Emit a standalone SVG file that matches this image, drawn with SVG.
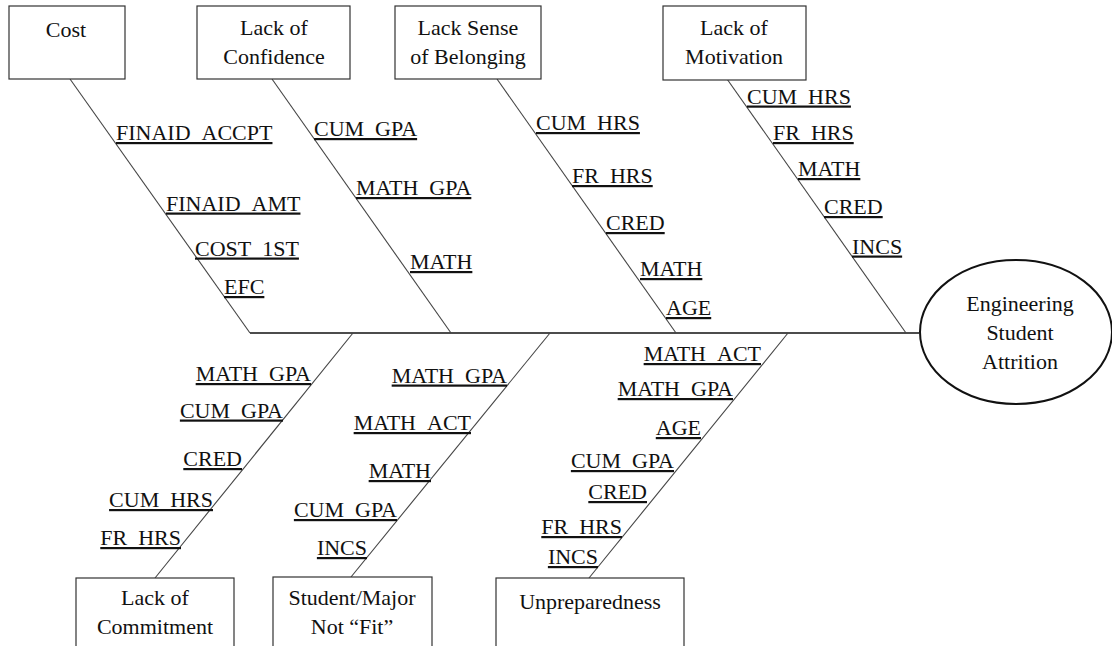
<svg xmlns="http://www.w3.org/2000/svg" width="1112" height="646" viewBox="0 0 1112 646">
<style>
text{font-family:"Liberation Serif","Times New Roman",serif;font-size:22px;fill:#111}
.lbl{text-decoration:underline}
.e{text-anchor:end}
.c{text-anchor:middle}
.box{fill:#fff;stroke:#333;stroke-width:1.2}
.br{stroke:#444;stroke-width:1.1;fill:none}
.sp{stroke:#111;stroke-width:1.6;fill:none}
</style>
<rect width="1112" height="646" fill="#fff"/>
<g id="connectors">
<line class="sp" x1="250" y1="333" x2="919" y2="333"/>
<line class="br" x1="70" y1="79" x2="250" y2="333"/>
<line class="br" x1="272" y1="79" x2="451" y2="333"/>
<line class="br" x1="497" y1="79" x2="676" y2="333"/>
<line class="br" x1="727" y1="79" x2="906" y2="333"/>
<line class="br" x1="353" y1="333" x2="155" y2="578"/>
<line class="br" x1="550" y1="333" x2="351" y2="577"/>
<line class="br" x1="788" y1="333" x2="589" y2="578"/>
</g>
<g id="cost">
<rect class="box" x="9" y="6" width="116" height="73"/>
<text class="c" x="66" y="37">Cost</text>
<text class="lbl" x="116" y="140">FINAID_ACCPT</text>
<text class="lbl" x="166" y="210.5">FINAID_AMT</text>
<text class="lbl" x="195" y="255.5">COST_1ST</text>
<text class="lbl" x="224" y="294">EFC</text>
</g>
<g id="confidence">
<rect class="box" x="197" y="6" width="153" height="73"/>
<text class="c" x="274" y="35">Lack of</text>
<text class="c" x="274" y="64">Confidence</text>
<text class="lbl" x="314" y="136">CUM_GPA</text>
<text class="lbl" x="356" y="195">MATH_GPA</text>
<text class="lbl" x="410" y="269">MATH</text>
</g>
<g id="belonging">
<rect class="box" x="395" y="6" width="146" height="73"/>
<text class="c" x="468" y="35">Lack Sense</text>
<text class="c" x="468" y="64">of Belonging</text>
<text class="lbl" x="536" y="130">CUM_HRS</text>
<text class="lbl" x="572" y="183">FR_HRS</text>
<text class="lbl" x="606" y="230">CRED</text>
<text class="lbl" x="640" y="276">MATH</text>
<text class="lbl" x="666" y="315">AGE</text>
</g>
<g id="motivation">
<rect class="box" x="663" y="6" width="143" height="74"/>
<text class="c" x="734" y="35">Lack of</text>
<text class="c" x="734" y="64">Motivation</text>
<text class="lbl" x="747" y="103.5">CUM_HRS</text>
<text class="lbl" x="773" y="140">FR_HRS</text>
<text class="lbl" x="798" y="176">MATH</text>
<text class="lbl" x="824" y="214">CRED</text>
<text class="lbl" x="852" y="253.5">INCS</text>
</g>
<g id="commitment">
<rect class="box" x="76" y="578" width="158" height="90"/>
<text class="c" x="155" y="605">Lack of</text>
<text class="c" x="155" y="634">Commitment</text>
<text class="lbl e" x="311" y="381">MATH_GPA</text>
<text class="lbl e" x="283" y="417.5">CUM_GPA</text>
<text class="lbl e" x="242" y="466">CRED</text>
<text class="lbl e" x="213" y="507">CUM_HRS</text>
<text class="lbl e" x="181" y="545">FR_HRS</text>
</g>
<g id="fit">
<rect class="box" x="273" y="577" width="159" height="90"/>
<text class="c" x="352" y="605">Student/Major</text>
<text class="c" x="352" y="634">Not “Fit”</text>
<text class="lbl e" x="507" y="382.5">MATH_GPA</text>
<text class="lbl e" x="471" y="430">MATH_ACT</text>
<text class="lbl e" x="431" y="478">MATH</text>
<text class="lbl e" x="397" y="517">CUM_GPA</text>
<text class="lbl e" x="367" y="555">INCS</text>
</g>
<g id="unpreparedness">
<rect class="box" x="496" y="578" width="188" height="90"/>
<text class="c" x="590" y="609">Unpreparedness</text>
<text class="lbl e" x="761" y="361">MATH_ACT</text>
<text class="lbl e" x="733" y="396">MATH_GPA</text>
<text class="lbl e" x="701" y="435">AGE</text>
<text class="lbl e" x="674" y="468">CUM_GPA</text>
<text class="lbl e" x="647" y="499">CRED</text>
<text class="lbl e" x="622" y="534">FR_HRS</text>
<text class="lbl e" x="598" y="564">INCS</text>
</g>
<g id="attrition">
<ellipse cx="1016" cy="332" rx="96" ry="72" fill="#fff" stroke="#111" stroke-width="2"/>
<text class="c" x="1020" y="311">Engineering</text>
<text class="c" x="1020" y="340">Student</text>
<text class="c" x="1020" y="369">Attrition</text>
</g>
</svg>
